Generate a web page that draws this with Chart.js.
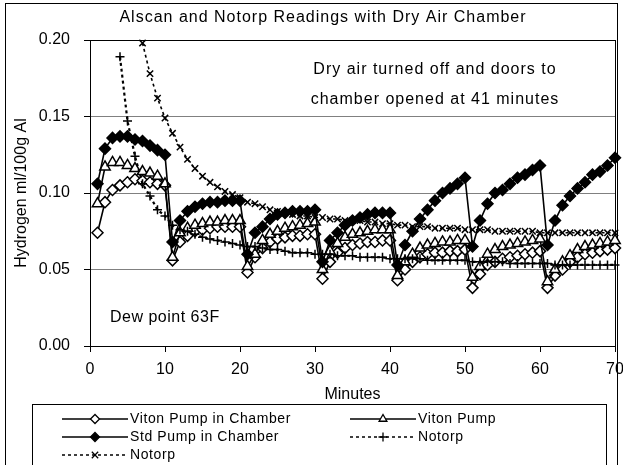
<!DOCTYPE html>
<html>
<head>
    <title>Alscan and Notorp Readings with Dry Air Chamber</title>
    <script src="https://cdn.jsdelivr.net/npm/chart.js"></script>
    <style>
        body { margin: 0; background: #fff; }
        #chart { display: block; }
    </style>
</head>
<body>
    <canvas id="chart" width="623" height="465"></canvas>

    <script>
        // Datos (ml/100g Al por minuto)
        const minutes = [1, 2, 3, 4, 5, 6, 7, 8, 9, 10,
            11, 12, 13, 14, 15, 16, 17, 18, 19, 20,
            21, 22, 23, 24, 25, 26, 27, 28, 29, 30,
            31, 32, 33, 34, 35, 36, 37, 38, 39, 40,
            41, 42, 43, 44, 45, 46, 47, 48, 49, 50,
            51, 52, 53, 54, 55, 56, 57, 58, 59, 60,
            61, 62, 63, 64, 65, 66, 67, 68, 69, 70];

        const seriesNames = ['Viton Pump in Chamber', 'Viton Pump', 'Std Pump in Chamber', 'Notorp', 'Notorp'];

        const vitonInChamber = [0.074, 0.094, 0.102, 0.105, 0.107, 0.109, 0.108, 0.107, 0.106, 0.105,
            0.056, 0.068, 0.072, 0.075, 0.076, 0.077, 0.078, 0.078, 0.078, 0.078,
            0.048, 0.058, 0.064, 0.068, 0.070, 0.071, 0.072, 0.072, 0.073, 0.073,
            0.044, 0.055, 0.061, 0.064, 0.066, 0.067, 0.068, 0.068, 0.069, 0.069,
            0.043, 0.050, 0.055, 0.058, 0.060, 0.061, 0.061, 0.062, 0.062, 0.063,
            0.038, 0.047, 0.053, 0.055, 0.057, 0.058, 0.059, 0.060, 0.061, 0.062,
            0.038, 0.046, 0.050, 0.055, 0.058, 0.060, 0.061, 0.062, 0.063, 0.064];

        const vitonPump = [0.093, 0.117, 0.120, 0.120, 0.118, 0.116, 0.114, 0.113, 0.111, 0.106,
            0.058, 0.074, 0.077, 0.079, 0.080, 0.081, 0.081, 0.082, 0.082, 0.082,
            0.052, 0.060, 0.069, 0.073, 0.075, 0.077, 0.078, 0.079, 0.080, 0.081,
            0.050, 0.062, 0.067, 0.071, 0.073, 0.074, 0.075, 0.076, 0.076, 0.076,
            0.046, 0.055, 0.060, 0.064, 0.066, 0.067, 0.068, 0.068, 0.069, 0.069,
            0.045, 0.052, 0.060, 0.063, 0.065, 0.066, 0.067, 0.068, 0.069, 0.070,
            0.042, 0.050, 0.055, 0.059, 0.063, 0.065, 0.066, 0.067, 0.068, 0.069];

        const stdInChamber = [0.106, 0.129, 0.136, 0.137, 0.137, 0.135, 0.134, 0.131, 0.128, 0.125,
            0.068, 0.082, 0.088, 0.091, 0.093, 0.094, 0.094, 0.095, 0.095, 0.095,
            0.060, 0.074, 0.078, 0.083, 0.086, 0.087, 0.088, 0.088, 0.088, 0.089,
            0.055, 0.069, 0.074, 0.079, 0.082, 0.084, 0.086, 0.087, 0.087, 0.087,
            0.053, 0.066, 0.075, 0.083, 0.089, 0.095, 0.100, 0.103, 0.106, 0.110,
            0.065, 0.082, 0.093, 0.100, 0.102, 0.106, 0.110, 0.112, 0.115, 0.118,
            0.066, 0.082, 0.092, 0.098, 0.103, 0.107, 0.112, 0.114, 0.118, 0.123];

        const notorpPlus = [null, null, null, 0.189, 0.147, 0.124, 0.106, 0.098, 0.089, 0.085,
            0.079, 0.076, 0.075, 0.073, 0.071, 0.070, 0.069, 0.068, 0.067, 0.066,
            0.065, 0.065, 0.064, 0.063, 0.063, 0.062, 0.061, 0.061, 0.061, 0.060,
            0.060, 0.060, 0.059, 0.059, 0.059, 0.058, 0.058, 0.058, 0.058, 0.057,
            0.057, 0.057, 0.057, 0.057, 0.056, 0.056, 0.056, 0.056, 0.056, 0.056,
            0.055, 0.055, 0.055, 0.055, 0.055, 0.054, 0.054, 0.054, 0.054, 0.054,
            0.054, 0.053, 0.053, 0.053, 0.053, 0.053, 0.053, 0.053, 0.053, 0.053];

        const notorpCross = [null, null, null, null, null, null, 0.198, 0.178, 0.162, 0.149,
            0.139, 0.130, 0.122, 0.116, 0.111, 0.107, 0.104, 0.101, 0.099, 0.097,
            0.094, 0.093, 0.091, 0.089, 0.088, 0.087, 0.086, 0.085, 0.085, 0.084,
            0.084, 0.083, 0.083, 0.082, 0.082, 0.082, 0.081, 0.081, 0.080, 0.080,
            0.079, 0.079, 0.078, 0.078, 0.078, 0.077, 0.077, 0.077, 0.077, 0.076,
            0.076, 0.076, 0.076, 0.075, 0.075, 0.075, 0.075, 0.075, 0.075, 0.074,
            0.074, 0.074, 0.074, 0.074, 0.074, 0.074, 0.074, 0.074, 0.074, 0.074];

        const FONT = "Arial, 'Liberation Sans', sans-serif";

        function toPoints(values) {
            return minutes.map((m, i) => ({ x: m, y: values[i] }));
        }

        // Estilos de cada serie (marcador y linea)
        const styles = [
            { pointStyle: 'rectRot', radius: 5.5, fill: '#fff', width: 1.6, dash: [] },
            { pointStyle: 'triangle', radius: 6, fill: '#fff', width: 1.6, dash: [] },
            { pointStyle: 'rectRot', radius: 5.5, fill: '#000', width: 1.6, dash: [] },
            { pointStyle: 'cross', radius: 4.5, fill: '#000', width: 2.2, dash: [3, 3] },
            { pointStyle: 'crossRot', radius: 4.5, fill: '#000', width: 1.6, dash: [3, 3] }
        ];
        const seriesData = [vitonInChamber, vitonPump, stdInChamber, notorpPlus, notorpCross];

        const datasets = seriesData.map((values, i) => ({
            label: seriesNames[i],
            data: toPoints(values),
            borderColor: '#000',
            borderWidth: styles[i].width,
            borderDash: styles[i].dash,
            pointStyle: styles[i].pointStyle,
            pointRadius: styles[i].radius,
            pointBackgroundColor: styles[i].fill,
            pointBorderColor: '#000',
            pointBorderWidth: 1.5,
            tension: 0,
            clip: false,
            order: 5 - i
        }));

        // Titulo, notas, marco y leyenda
        const decor = {
            id: 'decor',
            beforeDraw(chart) {
                const ctx = chart.ctx;
                ctx.save();
                ctx.fillStyle = '#fff';
                ctx.fillRect(0, 0, chart.width, chart.height);
                ctx.strokeStyle = '#000';
                ctx.lineWidth = 1;
                ctx.strokeRect(5.5, 3.5, 612, 470);
                ctx.restore();
            },
            beforeDatasetsDraw(chart) {
                const a = chart.chartArea;
                const ctx = chart.ctx;
                ctx.save();
                ctx.strokeStyle = '#000';
                ctx.lineWidth = 1;
                ctx.strokeRect(Math.round(a.left) + 0.5, Math.round(a.top) + 0.5,
                    Math.round(a.right - a.left), Math.round(a.bottom - a.top));
                ctx.restore();
            },
            afterDraw(chart) {
                const ctx = chart.ctx;
                ctx.save();
                ctx.fillStyle = '#000';
                ctx.textBaseline = 'middle';

                ctx.font = '16px ' + FONT;
                ctx.letterSpacing = '1px';
                ctx.textAlign = 'center';
                ctx.fillText('Alscan and Notorp Readings with Dry Air Chamber', 323, 18);

                ctx.fillText('Dry air turned off and doors to', 435, 70);
                ctx.fillText('chamber opened at 41 minutes', 435, 100);

                ctx.textAlign = 'left';
                ctx.letterSpacing = '0.5px';
                ctx.fillText('Dew point 63F', 110, 318);

                // Leyenda
                ctx.letterSpacing = '0.6px';
                ctx.strokeStyle = '#000';
                ctx.lineWidth = 1;
                ctx.strokeRect(32.5, 404.5, 574, 80);
                const slots = [[62, 419], [350, 419], [62, 437], [350, 437], [62, 455]];
                ctx.font = '14px ' + FONT;
                slots.forEach((s, i) => {
                    const st = styles[i];
                    const x0 = s[0], y = s[1];
                    ctx.save();
                    ctx.lineWidth = st.dash.length ? 1.5 : 1.3;
                    ctx.setLineDash(st.dash);
                    ctx.beginPath();
                    ctx.moveTo(x0, y);
                    ctx.lineTo(x0 + 66, y);
                    ctx.stroke();
                    ctx.setLineDash([]);
                    ctx.fillStyle = st.fill;
                    ctx.strokeStyle = '#000';
                    ctx.lineWidth = 1.3;
                    Chart.helpers.drawPoint(ctx, {
                        pointStyle: st.pointStyle,
                        radius: Math.min(st.radius, 4.5),
                        rotation: 0,
                        borderWidth: 1.3
                    }, x0 + 33, y);
                    ctx.restore();
                    ctx.fillText(seriesNames[i], x0 + 68, y);
                });
                ctx.restore();
            }
        };

        const ctx = document.getElementById('chart').getContext('2d');
        const chart = new Chart(ctx, {
            type: 'line',
            data: { datasets: datasets },
            options: {
                responsive: false,
                animation: false,
                devicePixelRatio: 1,
                layout: { padding: { top: 40, left: 8, right: 8, bottom: 61 } },
                plugins: {
                    legend: { display: false },
                    title: { display: false },
                    tooltip: { enabled: false }
                },
                scales: {
                    x: {
                        type: 'linear',
                        min: 0,
                        max: 70,
                        ticks: {
                            stepSize: 10,
                            color: '#000',
                            padding: 8,
                            maxRotation: 0,
                            font: { family: FONT, size: 16 }
                        },
                        grid: { drawOnChartArea: false, drawTicks: true, tickLength: 6, color: '#000' },
                        border: { color: '#000' },
                        title: {
                            display: true,
                            text: 'Minutes',
                            color: '#000',
                            padding: { top: 0, bottom: 0 },
                            font: { family: FONT, size: 16 }
                        },
                        afterFit(scale) {
                            scale.height = 58;
                            scale.paddingLeft = 0;
                            scale.paddingRight = 0;
                        }
                    },
                    y: {
                        min: 0,
                        max: 0.2,
                        ticks: {
                            stepSize: 0.05,
                            color: '#000',
                            padding: 14,
                            font: { family: FONT, size: 16 },
                            callback: v => v.toFixed(2)
                        },
                        grid: { color: '#808080', tickColor: '#000', tickLength: 6 },
                        border: { color: '#000' },
                        title: {
                            display: true,
                            text: 'Hydrogen ml/100g Al',
                            color: '#000',
                            padding: { top: 4, bottom: 0 },
                            font: { family: FONT, size: 16 }
                        },
                        afterFit(scale) {
                            scale.width = 82;
                        }
                    }
                }
            },
            plugins: [decor]
        });
    </script>
</body>
</html>
